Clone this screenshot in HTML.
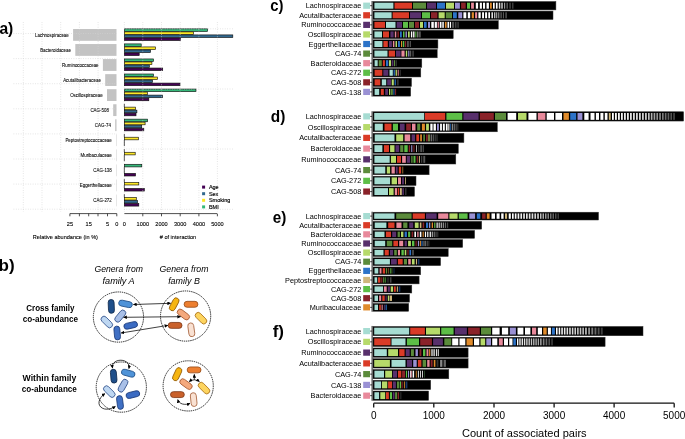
<!DOCTYPE html>
<html><head><meta charset="utf-8"><style>
html,body{margin:0;padding:0;background:#fff;}
svg{display:block;will-change:transform;font-family:"Liberation Sans",sans-serif;}
</style></head><body>
<svg width="685" height="439" viewBox="0 0 685 439">
<rect width="685" height="439" fill="#fff"/>
<line x1="124.35" y1="22" x2="124.35" y2="212" stroke="#d3d3d3" stroke-width="0.7" stroke-dasharray="0.8 1.6"/>
<rect x="73.1" y="29" width="43.4" height="11.8" fill="#c3c3c3"/>
<rect x="124.35" y="28.85" width="83.25" height="2.6" fill="#35b779" stroke="#111" stroke-width="0.65"/>
<rect x="124.35" y="31.88" width="69.15" height="2.6" fill="#fde725" stroke="#111" stroke-width="0.65"/>
<rect x="124.35" y="34.91" width="108.45" height="2.6" fill="#31688e" stroke="#111" stroke-width="0.65"/>
<rect x="124.35" y="37.94" width="56.25" height="2.6" fill="#440154" stroke="#111" stroke-width="0.65"/>
<rect x="75.3" y="44.05" width="41.2" height="11.8" fill="#c3c3c3"/>
<rect x="124.35" y="43.9" width="16.85" height="2.6" fill="#35b779" stroke="#111" stroke-width="0.65"/>
<rect x="124.35" y="46.93" width="31.25" height="2.6" fill="#fde725" stroke="#111" stroke-width="0.65"/>
<rect x="124.35" y="49.96" width="26.15" height="2.6" fill="#31688e" stroke="#111" stroke-width="0.65"/>
<rect x="124.35" y="52.99" width="14.85" height="2.6" fill="#440154" stroke="#111" stroke-width="0.65"/>
<rect x="102.9" y="59.1" width="13.6" height="11.8" fill="#c3c3c3"/>
<rect x="124.35" y="58.95" width="29.15" height="2.6" fill="#35b779" stroke="#111" stroke-width="0.65"/>
<rect x="124.35" y="61.98" width="27.55" height="2.6" fill="#fde725" stroke="#111" stroke-width="0.65"/>
<rect x="124.35" y="65.01" width="25.05" height="2.6" fill="#31688e" stroke="#111" stroke-width="0.65"/>
<rect x="124.35" y="68.04" width="38.35" height="2.6" fill="#440154" stroke="#111" stroke-width="0.65"/>
<rect x="105.2" y="74.15" width="11.3" height="11.8" fill="#c3c3c3"/>
<rect x="124.35" y="74" width="29.15" height="2.6" fill="#35b779" stroke="#111" stroke-width="0.65"/>
<rect x="124.35" y="77.03" width="33.25" height="2.6" fill="#fde725" stroke="#111" stroke-width="0.65"/>
<rect x="124.35" y="80.06" width="28.15" height="2.6" fill="#31688e" stroke="#111" stroke-width="0.65"/>
<rect x="124.35" y="83.09" width="55.65" height="2.6" fill="#440154" stroke="#111" stroke-width="0.65"/>
<rect x="107" y="89.2" width="9.5" height="11.8" fill="#c3c3c3"/>
<rect x="124.35" y="89.05" width="71.65" height="2.6" fill="#35b779" stroke="#111" stroke-width="0.65"/>
<rect x="124.35" y="92.08" width="23.05" height="2.6" fill="#fde725" stroke="#111" stroke-width="0.65"/>
<rect x="124.35" y="95.11" width="38.15" height="2.6" fill="#31688e" stroke="#111" stroke-width="0.65"/>
<rect x="124.35" y="98.14" width="24.45" height="2.6" fill="#440154" stroke="#111" stroke-width="0.65"/>
<rect x="113.2" y="104.25" width="3.3" height="11.8" fill="#c3c3c3"/>
<line x1="124.35" y1="103.85" x2="124.35" y2="106.88" stroke="#111" stroke-width="0.7"/>
<rect x="124.35" y="107.13" width="11.25" height="2.6" fill="#fde725" stroke="#111" stroke-width="0.65"/>
<rect x="124.35" y="110.16" width="12.55" height="2.6" fill="#31688e" stroke="#111" stroke-width="0.65"/>
<rect x="124.35" y="113.19" width="11.65" height="2.6" fill="#440154" stroke="#111" stroke-width="0.65"/>
<rect x="115.2" y="119.3" width="1.3" height="11.8" fill="#c3c3c3"/>
<rect x="124.35" y="119.15" width="23.25" height="2.6" fill="#35b779" stroke="#111" stroke-width="0.65"/>
<rect x="124.35" y="122.18" width="20.75" height="2.6" fill="#fde725" stroke="#111" stroke-width="0.65"/>
<rect x="124.35" y="125.21" width="17.35" height="2.6" fill="#31688e" stroke="#111" stroke-width="0.65"/>
<rect x="124.35" y="128.24" width="19.45" height="2.6" fill="#440154" stroke="#111" stroke-width="0.65"/>
<rect x="116.1" y="134.35" width="0.4" height="11.8" fill="#c3c3c3"/>
<line x1="124.35" y1="133.95" x2="124.35" y2="136.98" stroke="#111" stroke-width="0.7"/>
<rect x="124.35" y="137.23" width="14.05" height="2.6" fill="#fde725" stroke="#111" stroke-width="0.65"/>
<line x1="124.35" y1="140.01" x2="124.35" y2="143.04" stroke="#111" stroke-width="0.7"/>
<line x1="124.35" y1="143.04" x2="124.35" y2="146.07" stroke="#111" stroke-width="0.7"/>
<rect x="116.1" y="149.4" width="0.4" height="11.8" fill="#c3c3c3"/>
<line x1="124.35" y1="149" x2="124.35" y2="152.03" stroke="#111" stroke-width="0.7"/>
<rect x="124.35" y="152.28" width="10.85" height="2.6" fill="#fde725" stroke="#111" stroke-width="0.65"/>
<line x1="124.35" y1="155.06" x2="124.35" y2="158.09" stroke="#111" stroke-width="0.7"/>
<line x1="124.35" y1="158.09" x2="124.35" y2="161.12" stroke="#111" stroke-width="0.7"/>
<rect x="116.1" y="164.45" width="0.4" height="11.8" fill="#c3c3c3"/>
<rect x="124.35" y="164.3" width="17.45" height="2.6" fill="#35b779" stroke="#111" stroke-width="0.65"/>
<line x1="124.35" y1="167.08" x2="124.35" y2="170.11" stroke="#111" stroke-width="0.7"/>
<line x1="124.35" y1="170.11" x2="124.35" y2="173.14" stroke="#111" stroke-width="0.7"/>
<rect x="124.35" y="173.39" width="11.15" height="2.6" fill="#440154" stroke="#111" stroke-width="0.65"/>
<rect x="116.1" y="179.5" width="0.4" height="11.8" fill="#c3c3c3"/>
<line x1="124.35" y1="179.1" x2="124.35" y2="182.13" stroke="#111" stroke-width="0.7"/>
<rect x="124.35" y="182.38" width="14.45" height="2.6" fill="#fde725" stroke="#111" stroke-width="0.65"/>
<line x1="124.35" y1="185.16" x2="124.35" y2="188.19" stroke="#111" stroke-width="0.7"/>
<rect x="124.35" y="188.44" width="19.95" height="2.6" fill="#440154" stroke="#111" stroke-width="0.65"/>
<rect x="116.1" y="194.55" width="0.4" height="11.8" fill="#c3c3c3"/>
<line x1="124.35" y1="194.15" x2="124.35" y2="197.18" stroke="#111" stroke-width="0.7"/>
<rect x="124.35" y="197.43" width="11.95" height="2.6" fill="#fde725" stroke="#111" stroke-width="0.65"/>
<rect x="124.35" y="200.46" width="13.15" height="2.6" fill="#31688e" stroke="#111" stroke-width="0.65"/>
<rect x="124.35" y="203.49" width="14.45" height="2.6" fill="#440154" stroke="#111" stroke-width="0.65"/>
<line x1="23.3" y1="22" x2="23.3" y2="212" stroke="#d3d3d3" stroke-width="0.7" stroke-dasharray="0.8 1.6"/>
<line x1="42" y1="22" x2="42" y2="212" stroke="#d3d3d3" stroke-width="0.7" stroke-dasharray="0.8 1.6"/>
<line x1="60.7" y1="22" x2="60.7" y2="212" stroke="#d3d3d3" stroke-width="0.7" stroke-dasharray="0.8 1.6"/>
<line x1="79.4" y1="22" x2="79.4" y2="212" stroke="#d3d3d3" stroke-width="0.7" stroke-dasharray="0.8 1.6"/>
<line x1="98.1" y1="22" x2="98.1" y2="212" stroke="#d3d3d3" stroke-width="0.7" stroke-dasharray="0.8 1.6"/>
<line x1="13.5" y1="33.5" x2="117" y2="33.5" stroke="#d3d3d3" stroke-width="0.7" stroke-dasharray="0.8 1.6"/>
<line x1="13.5" y1="58.6" x2="117" y2="58.6" stroke="#d3d3d3" stroke-width="0.7" stroke-dasharray="0.8 1.6"/>
<line x1="13.5" y1="83.7" x2="117" y2="83.7" stroke="#d3d3d3" stroke-width="0.7" stroke-dasharray="0.8 1.6"/>
<line x1="13.5" y1="108.8" x2="117" y2="108.8" stroke="#d3d3d3" stroke-width="0.7" stroke-dasharray="0.8 1.6"/>
<line x1="13.5" y1="133.9" x2="117" y2="133.9" stroke="#d3d3d3" stroke-width="0.7" stroke-dasharray="0.8 1.6"/>
<line x1="13.5" y1="159" x2="117" y2="159" stroke="#d3d3d3" stroke-width="0.7" stroke-dasharray="0.8 1.6"/>
<line x1="13.5" y1="184.1" x2="117" y2="184.1" stroke="#d3d3d3" stroke-width="0.7" stroke-dasharray="0.8 1.6"/>
<line x1="13.5" y1="209.2" x2="117" y2="209.2" stroke="#d3d3d3" stroke-width="0.7" stroke-dasharray="0.8 1.6"/>
<line x1="142.8" y1="22" x2="142.8" y2="212" stroke="#d3d3d3" stroke-width="0.7" stroke-dasharray="0.8 1.6"/>
<line x1="161.5" y1="22" x2="161.5" y2="212" stroke="#d3d3d3" stroke-width="0.7" stroke-dasharray="0.8 1.6"/>
<line x1="180.2" y1="22" x2="180.2" y2="212" stroke="#d3d3d3" stroke-width="0.7" stroke-dasharray="0.8 1.6"/>
<line x1="198.9" y1="22" x2="198.9" y2="212" stroke="#d3d3d3" stroke-width="0.7" stroke-dasharray="0.8 1.6"/>
<line x1="217.4" y1="22" x2="217.4" y2="212" stroke="#d3d3d3" stroke-width="0.7" stroke-dasharray="0.8 1.6"/>
<line x1="124" y1="28.8" x2="233" y2="28.8" stroke="#d3d3d3" stroke-width="0.7" stroke-dasharray="0.8 1.6"/>
<line x1="124" y1="89" x2="233" y2="89" stroke="#d3d3d3" stroke-width="0.7" stroke-dasharray="0.8 1.6"/>
<line x1="124" y1="149" x2="233" y2="149" stroke="#d3d3d3" stroke-width="0.7" stroke-dasharray="0.8 1.6"/>
<line x1="124" y1="209.3" x2="233" y2="209.3" stroke="#d3d3d3" stroke-width="0.7" stroke-dasharray="0.8 1.6"/>
<text x="68.8" y="36.5" font-size="4.45" text-anchor="end" fill="#000" stroke="#000" stroke-width="0.07">Lachnospiraceae</text>
<text x="71" y="51.55" font-size="4.45" text-anchor="end" fill="#000" stroke="#000" stroke-width="0.07">Bacteroidaceae</text>
<text x="98.6" y="66.6" font-size="4.45" text-anchor="end" fill="#000" stroke="#000" stroke-width="0.07">Ruminococcaceae</text>
<text x="100.9" y="81.65" font-size="4.45" text-anchor="end" fill="#000" stroke="#000" stroke-width="0.07">Acutalibacteraceae</text>
<text x="102.7" y="96.7" font-size="4.45" text-anchor="end" fill="#000" stroke="#000" stroke-width="0.07">Oscillospiraceae</text>
<text x="108.9" y="111.75" font-size="4.45" text-anchor="end" fill="#000" stroke="#000" stroke-width="0.07">CAG-508</text>
<text x="110.9" y="126.8" font-size="4.45" text-anchor="end" fill="#000" stroke="#000" stroke-width="0.07">CAG-74</text>
<text x="111.8" y="141.85" font-size="4.45" text-anchor="end" fill="#000" stroke="#000" stroke-width="0.07">Peptostreptococcaceae</text>
<text x="111.8" y="156.9" font-size="4.45" text-anchor="end" fill="#000" stroke="#000" stroke-width="0.07">Muribaculaceae</text>
<text x="111.8" y="171.95" font-size="4.45" text-anchor="end" fill="#000" stroke="#000" stroke-width="0.07">CAG-138</text>
<text x="111.8" y="187" font-size="4.45" text-anchor="end" fill="#000" stroke="#000" stroke-width="0.07">Eggerthellaceae</text>
<text x="111.8" y="202.05" font-size="4.45" text-anchor="end" fill="#000" stroke="#000" stroke-width="0.07">CAG-272</text>
<g stroke="#222" stroke-width="0.8" fill="none">
<path d="M69.9,213.6 H116.8"/>
<path d="M69.9,213.6 V216.3"/>
<path d="M79.4,213.6 V216.3"/>
<path d="M88.7,213.6 V216.3"/>
<path d="M98,213.6 V216.3"/>
<path d="M107.5,213.6 V216.3"/>
<path d="M116.8,213.6 V216.3"/>
<path d="M124.35,213.6 H217"/>
<path d="M142.8,213.6 V216.3"/>
<path d="M161.5,213.6 V216.3"/>
<path d="M180.2,213.6 V216.3"/>
<path d="M198.9,213.6 V216.3"/>
<path d="M217.4,213.6 V216.3"/>
</g>
<text x="69.9" y="225.6" font-size="5.6" text-anchor="middle" fill="#000" stroke="#000" stroke-width="0.1">25</text>
<text x="88.7" y="225.6" font-size="5.6" text-anchor="middle" fill="#000" stroke="#000" stroke-width="0.1">15</text>
<text x="107.5" y="225.6" font-size="5.6" text-anchor="middle" fill="#000" stroke="#000" stroke-width="0.1">5</text>
<text x="116.8" y="225.6" font-size="5.6" text-anchor="middle" fill="#000" stroke="#000" stroke-width="0.1">0</text>
<text x="124.35" y="225.6" font-size="5.6" text-anchor="middle" fill="#000" stroke="#000" stroke-width="0.1">0</text>
<text x="142.8" y="225.6" font-size="5.6" text-anchor="middle" fill="#000" stroke="#000" stroke-width="0.1">1000</text>
<text x="161.5" y="225.6" font-size="5.6" text-anchor="middle" fill="#000" stroke="#000" stroke-width="0.1">2000</text>
<text x="180.2" y="225.6" font-size="5.6" text-anchor="middle" fill="#000" stroke="#000" stroke-width="0.1">3000</text>
<text x="198.9" y="225.6" font-size="5.6" text-anchor="middle" fill="#000" stroke="#000" stroke-width="0.1">4000</text>
<text x="217.4" y="225.6" font-size="5.6" text-anchor="middle" fill="#000" stroke="#000" stroke-width="0.1">5000</text>
<text x="65.4" y="239" font-size="5.55" text-anchor="middle" fill="#000" stroke="#000" stroke-width="0.1">Relative abundance (in %)</text>
<text x="178" y="239" font-size="5.55" text-anchor="middle" fill="#000" stroke="#000" stroke-width="0.1">#  of interaction</text>
<rect x="202.1" y="185.6" width="3" height="3" fill="#440154"/>
<text x="208.9" y="189.1" font-size="5.5" fill="#000" stroke="#000" stroke-width="0.15">Age</text>
<rect x="202.1" y="192.2" width="3" height="3" fill="#31688e"/>
<text x="208.9" y="195.7" font-size="5.5" fill="#000" stroke="#000" stroke-width="0.15">Sex</text>
<rect x="202.1" y="198.8" width="3" height="3" fill="#fde725"/>
<text x="208.9" y="202.3" font-size="5.5" fill="#000" stroke="#000" stroke-width="0.15">Smoking</text>
<rect x="202.1" y="205.4" width="3" height="3" fill="#35b779"/>
<text x="208.9" y="208.9" font-size="5.5" fill="#000" stroke="#000" stroke-width="0.15">BMI</text>
<text transform="translate(270.2,11.3) scale(0.877,1)" font-size="17" font-weight="bold" fill="#000">c)</text>
<line x1="372.1" y1="1" x2="372.1" y2="96.62" stroke="#222" stroke-width="1"/>
<text x="361.3" y="8.3" font-size="7.3" text-anchor="end" fill="#000">Lachnospiraceae</text>
<rect x="363.2" y="2.6" width="6.8" height="6.2" fill="#a6dcd2"/>
<line x1="370.2" y1="5.7" x2="372.1" y2="5.7" stroke="#222" stroke-width="0.9"/>
<rect x="373" y="1.5" width="182.9" height="8.4" fill="#000" stroke="#333" stroke-width="0.5"/>
<rect x="374.4" y="2.7" width="19" height="6" fill="#a6dcd2"/>
<rect x="394.5" y="2.7" width="17.5" height="6" fill="#da3b27"/>
<rect x="413" y="2.7" width="13" height="6" fill="#5b8b3b"/>
<rect x="427" y="2.7" width="9" height="6" fill="#58306c"/>
<rect x="437" y="2.7" width="8" height="6" fill="#2c73c8"/>
<rect x="446" y="2.7" width="8" height="6" fill="#b6da6a"/>
<rect x="455" y="2.7" width="4.9" height="6" fill="#9a91d4"/>
<rect x="461.1" y="2.7" width="4.6" height="6" fill="#8a2229"/>
<rect x="467" y="2.7" width="3" height="6" fill="#5dbe47"/>
<rect x="471.1" y="2.7" width="2.8" height="6" fill="#e8899b"/>
<rect x="475.8" y="2.7" width="2.3" height="6" fill="#ffffff"/>
<rect x="479.8" y="2.7" width="2.1" height="6" fill="#ffffff"/>
<rect x="483" y="2.7" width="2.1" height="6" fill="#ffffff"/>
<rect x="486.5" y="2.7" width="2.4" height="6" fill="#ffffff"/>
<rect x="490" y="2.7" width="1.8" height="6" fill="#e08b2b"/>
<rect x="493" y="2.7" width="1.7" height="6" fill="#ffffff"/>
<rect x="495.9" y="2.7" width="1.7" height="6" fill="#ffffff"/>
<rect x="498.8" y="2.7" width="1.5" height="6" fill="#dddddd"/>
<rect x="501.1" y="2.7" width="1.8" height="6" fill="#aaaaaa"/>
<rect x="504" y="2.7" width="1.2" height="6" fill="#999999"/>
<rect x="506.4" y="2.7" width="1.6" height="6" fill="#555555"/>
<rect x="509.3" y="2.7" width="1.5" height="6" fill="#444444"/>
<rect x="512" y="2.7" width="1.5" height="6" fill="#3a3a3a"/>
<text x="361.3" y="17.88" font-size="7.3" text-anchor="end" fill="#000">Acutalibacteraceae</text>
<rect x="363.2" y="12.18" width="6.8" height="6.2" fill="#da3b27"/>
<line x1="370.2" y1="15.28" x2="372.1" y2="15.28" stroke="#222" stroke-width="0.9"/>
<rect x="373" y="11.08" width="180" height="8.4" fill="#000" stroke="#333" stroke-width="0.5"/>
<rect x="374.4" y="12.28" width="17.2" height="6" fill="#a6dcd2"/>
<rect x="392.6" y="12.28" width="16.4" height="6" fill="#da3b27"/>
<rect x="410" y="12.28" width="11" height="6" fill="#58306c"/>
<rect x="422" y="12.28" width="8" height="6" fill="#5dbe47"/>
<rect x="431" y="12.28" width="6.4" height="6" fill="#8a2229"/>
<rect x="438.6" y="12.28" width="6.1" height="6" fill="#b6da6a"/>
<rect x="445.8" y="12.28" width="6.2" height="6" fill="#5b8b3b"/>
<rect x="453" y="12.28" width="3.8" height="6" fill="#2c73c8"/>
<rect x="458.3" y="12.28" width="3.9" height="6" fill="#9a91d4"/>
<rect x="463.4" y="12.28" width="2.9" height="6" fill="#ffffff"/>
<rect x="467.8" y="12.28" width="2.4" height="6" fill="#ffffff"/>
<rect x="471.7" y="12.28" width="2.2" height="6" fill="#e08b2b"/>
<rect x="475.1" y="12.28" width="2.1" height="6" fill="#e8899b"/>
<rect x="478.4" y="12.28" width="2.3" height="6" fill="#ffffff"/>
<rect x="482.1" y="12.28" width="1.9" height="6" fill="#ffffff"/>
<rect x="485.1" y="12.28" width="2" height="6" fill="#ffffff"/>
<rect x="488.3" y="12.28" width="1.7" height="6" fill="#ffffff"/>
<rect x="491.4" y="12.28" width="1.6" height="6" fill="#dddddd"/>
<rect x="494.1" y="12.28" width="1.2" height="6" fill="#cccccc"/>
<rect x="495.9" y="12.28" width="0.9" height="6" fill="#bbbbbb"/>
<rect x="497.6" y="12.28" width="1.8" height="6" fill="#777777"/>
<rect x="500.5" y="12.28" width="1.2" height="6" fill="#666666"/>
<rect x="502.9" y="12.28" width="1.1" height="6" fill="#555555"/>
<rect x="505.2" y="12.28" width="1.8" height="6" fill="#444444"/>
<text x="361.3" y="27.46" font-size="7.3" text-anchor="end" fill="#000">Ruminococcaceae</text>
<rect x="363.2" y="21.76" width="6.8" height="6.2" fill="#58306c"/>
<line x1="370.2" y1="24.86" x2="372.1" y2="24.86" stroke="#222" stroke-width="0.9"/>
<rect x="373" y="20.66" width="125.3" height="8.4" fill="#000" stroke="#333" stroke-width="0.5"/>
<rect x="374.4" y="21.86" width="10.6" height="6" fill="#da3b27"/>
<rect x="386" y="21.86" width="9.5" height="6" fill="#a6dcd2"/>
<rect x="396.7" y="21.86" width="5.3" height="6" fill="#58306c"/>
<rect x="403" y="21.86" width="5" height="6" fill="#5dbe47"/>
<rect x="409" y="21.86" width="5" height="6" fill="#5b8b3b"/>
<rect x="415" y="21.86" width="4" height="6" fill="#8a2229"/>
<rect x="420" y="21.86" width="3" height="6" fill="#b6da6a"/>
<rect x="424" y="21.86" width="2.6" height="6" fill="#2c73c8"/>
<rect x="428" y="21.86" width="2" height="6" fill="#9a91d4"/>
<rect x="431.3" y="21.86" width="2.5" height="6" fill="#ffffff"/>
<rect x="434.7" y="21.86" width="2.2" height="6" fill="#ffffff"/>
<rect x="437.6" y="21.86" width="1.3" height="6" fill="#e8899b"/>
<rect x="439.8" y="21.86" width="1.7" height="6" fill="#ffffff"/>
<rect x="442.3" y="21.86" width="1.5" height="6" fill="#ffffff"/>
<rect x="444.9" y="21.86" width="1.7" height="6" fill="#e08b2b"/>
<rect x="447.5" y="21.86" width="1.5" height="6" fill="#ffffff"/>
<rect x="449.8" y="21.86" width="1.2" height="6" fill="#ffffff"/>
<rect x="451.8" y="21.86" width="2.2" height="6" fill="#555555"/>
<rect x="454.8" y="21.86" width="1.7" height="6" fill="#444444"/>
<rect x="457.2" y="21.86" width="1.8" height="6" fill="#333333"/>
<text x="361.3" y="37.04" font-size="7.3" text-anchor="end" fill="#000">Oscillospiraceae</text>
<rect x="363.2" y="31.34" width="6.8" height="6.2" fill="#b6da6a"/>
<line x1="370.2" y1="34.44" x2="372.1" y2="34.44" stroke="#222" stroke-width="0.9"/>
<rect x="373" y="30.24" width="80.2" height="8.4" fill="#000" stroke="#333" stroke-width="0.5"/>
<rect x="374.4" y="31.44" width="7.6" height="6" fill="#a6dcd2"/>
<rect x="383" y="31.44" width="6" height="6" fill="#da3b27"/>
<rect x="390.4" y="31.44" width="3.2" height="6" fill="#58306c"/>
<rect x="394.8" y="31.44" width="1.5" height="6" fill="#e8899b"/>
<rect x="397.4" y="31.44" width="1.5" height="6" fill="#8a2229"/>
<rect x="400" y="31.44" width="1.8" height="6" fill="#2c73c8"/>
<rect x="403" y="31.44" width="1.5" height="6" fill="#5dbe47"/>
<rect x="405.5" y="31.44" width="1.4" height="6" fill="#9a91d4"/>
<rect x="408" y="31.44" width="1.7" height="6" fill="#b6da6a"/>
<rect x="410.9" y="31.44" width="1.4" height="6" fill="#ffffff"/>
<rect x="413.1" y="31.44" width="1.4" height="6" fill="#ffffff"/>
<rect x="415.3" y="31.44" width="1.1" height="6" fill="#5dbe47"/>
<rect x="417" y="31.44" width="1.5" height="6" fill="#777777"/>
<rect x="419" y="31.44" width="1.8" height="6" fill="#555555"/>
<text x="361.3" y="46.62" font-size="7.3" text-anchor="end" fill="#000">Eggerthellaceae</text>
<rect x="363.2" y="40.92" width="6.8" height="6.2" fill="#2c73c8"/>
<line x1="370.2" y1="44.02" x2="372.1" y2="44.02" stroke="#222" stroke-width="0.9"/>
<rect x="373" y="39.82" width="64.9" height="8.4" fill="#000" stroke="#333" stroke-width="0.5"/>
<rect x="374.4" y="41.02" width="8" height="6" fill="#a6dcd2"/>
<rect x="383.4" y="41.02" width="4.4" height="6" fill="#da3b27"/>
<rect x="389" y="41.02" width="2.9" height="6" fill="#58306c"/>
<rect x="392.9" y="41.02" width="1.5" height="6" fill="#e8899b"/>
<rect x="395.5" y="41.02" width="1.5" height="6" fill="#b6da6a"/>
<rect x="398" y="41.02" width="1.9" height="6" fill="#2c73c8"/>
<rect x="401" y="41.02" width="1.1" height="6" fill="#e08b2b"/>
<rect x="402.8" y="41.02" width="1.5" height="6" fill="#5dbe47"/>
<rect x="405" y="41.02" width="1.2" height="6" fill="#8a2229"/>
<rect x="407.2" y="41.02" width="1.5" height="6" fill="#666666"/>
<rect x="409.7" y="41.02" width="1.2" height="6" fill="#555555"/>
<text x="361.3" y="56.2" font-size="7.3" text-anchor="end" fill="#000">CAG-74</text>
<rect x="363.2" y="50.5" width="6.8" height="6.2" fill="#5b8b3b"/>
<line x1="370.2" y1="53.6" x2="372.1" y2="53.6" stroke="#222" stroke-width="0.9"/>
<rect x="373" y="49.4" width="64.2" height="8.4" fill="#000" stroke="#333" stroke-width="0.5"/>
<rect x="374.4" y="50.6" width="13.1" height="6" fill="#a6dcd2"/>
<rect x="388.7" y="50.6" width="6.3" height="6" fill="#da3b27"/>
<rect x="396" y="50.6" width="4.6" height="6" fill="#58306c"/>
<rect x="401.4" y="50.6" width="3.2" height="6" fill="#e8899b"/>
<rect x="405.8" y="50.6" width="1.4" height="6" fill="#b6da6a"/>
<rect x="408.2" y="50.6" width="1.2" height="6" fill="#9a91d4"/>
<rect x="410.1" y="50.6" width="1.1" height="6" fill="#666666"/>
<rect x="412.3" y="50.6" width="1.5" height="6" fill="#444444"/>
<text x="361.3" y="65.78" font-size="7.3" text-anchor="end" fill="#000">Bacteroidaceae</text>
<rect x="363.2" y="60.08" width="6.8" height="6.2" fill="#e8899b"/>
<line x1="370.2" y1="63.18" x2="372.1" y2="63.18" stroke="#222" stroke-width="0.9"/>
<rect x="373" y="58.98" width="48.8" height="8.4" fill="#000" stroke="#333" stroke-width="0.5"/>
<rect x="374.6" y="60.18" width="3.1" height="6" fill="#a6dcd2"/>
<rect x="378.7" y="60.18" width="3.1" height="6" fill="#5b8b3b"/>
<rect x="382.8" y="60.18" width="2.1" height="6" fill="#da3b27"/>
<rect x="385.9" y="60.18" width="2.4" height="6" fill="#2c73c8"/>
<rect x="389" y="60.18" width="2" height="6" fill="#b6da6a"/>
<rect x="391.7" y="60.18" width="1.7" height="6" fill="#58306c"/>
<rect x="394" y="60.18" width="1.1" height="6" fill="#5b8b3b"/>
<rect x="395.6" y="60.18" width="1.3" height="6" fill="#333333"/>
<text x="361.3" y="75.36" font-size="7.3" text-anchor="end" fill="#000">CAG-272</text>
<rect x="363.2" y="69.66" width="6.8" height="6.2" fill="#5dbe47"/>
<line x1="370.2" y1="72.76" x2="372.1" y2="72.76" stroke="#222" stroke-width="0.9"/>
<rect x="373" y="68.56" width="47.8" height="8.4" fill="#000" stroke="#333" stroke-width="0.5"/>
<rect x="374.6" y="69.76" width="7.7" height="6" fill="#da3b27"/>
<rect x="383.3" y="69.76" width="5" height="6" fill="#58306c"/>
<rect x="389.5" y="69.76" width="3.3" height="6" fill="#a6dcd2"/>
<rect x="393.6" y="69.76" width="1.2" height="6" fill="#2c73c8"/>
<rect x="395.6" y="69.76" width="1.3" height="6" fill="#b6da6a"/>
<rect x="397.7" y="69.76" width="1" height="6" fill="#e8899b"/>
<rect x="399.7" y="69.76" width="1.1" height="6" fill="#333333"/>
<text x="361.3" y="84.94" font-size="7.3" text-anchor="end" fill="#000">CAG-508</text>
<rect x="363.2" y="79.24" width="6.8" height="6.2" fill="#8a2229"/>
<line x1="370.2" y1="82.34" x2="372.1" y2="82.34" stroke="#222" stroke-width="0.9"/>
<rect x="373" y="78.14" width="38.5" height="8.4" fill="#000" stroke="#333" stroke-width="0.5"/>
<rect x="374.6" y="79.34" width="5.7" height="6" fill="#da3b27"/>
<rect x="381.8" y="79.34" width="4.4" height="6" fill="#a6dcd2"/>
<rect x="387.2" y="79.34" width="3.8" height="6" fill="#58306c"/>
<rect x="391.7" y="79.34" width="2.1" height="6" fill="#b6da6a"/>
<rect x="394.6" y="79.34" width="1.2" height="6" fill="#2c73c8"/>
<rect x="396.9" y="79.34" width="1.8" height="6" fill="#333333"/>
<text x="361.3" y="94.52" font-size="7.3" text-anchor="end" fill="#000">CAG-138</text>
<rect x="363.2" y="88.82" width="6.8" height="6.2" fill="#9a91d4"/>
<line x1="370.2" y1="91.92" x2="372.1" y2="91.92" stroke="#222" stroke-width="0.9"/>
<rect x="373" y="87.72" width="37.7" height="8.4" fill="#000" stroke="#333" stroke-width="0.5"/>
<rect x="374.6" y="88.92" width="4.6" height="6" fill="#a6dcd2"/>
<rect x="380.8" y="88.92" width="3" height="6" fill="#da3b27"/>
<rect x="385.2" y="88.92" width="2.8" height="6" fill="#58306c"/>
<rect x="389" y="88.92" width="1" height="6" fill="#b6da6a"/>
<rect x="390.5" y="88.92" width="2.3" height="6" fill="#5b8b3b"/>
<rect x="393.4" y="88.92" width="1" height="6" fill="#2c73c8"/>
<rect x="395.1" y="88.92" width="1" height="6" fill="#8a2229"/>
<text transform="translate(270.8,121.5) scale(0.907,1)" font-size="17" font-weight="bold" fill="#000">d)</text>
<line x1="372.1" y1="111.25" x2="372.1" y2="196.73" stroke="#222" stroke-width="1"/>
<text x="361.3" y="119" font-size="7.3" text-anchor="end" fill="#000">Lachnospiraceae</text>
<rect x="363.2" y="113.3" width="6.8" height="6.2" fill="#a6dcd2"/>
<line x1="370.2" y1="116.4" x2="372.1" y2="116.4" stroke="#222" stroke-width="0.9"/>
<rect x="373" y="111.75" width="310.6" height="9.3" fill="#000" stroke="#333" stroke-width="0.5"/>
<rect x="374.2" y="112.95" width="50" height="6.9" fill="#a6dcd2"/>
<rect x="424.9" y="112.95" width="20.3" height="6.9" fill="#da3b27"/>
<rect x="446.4" y="112.95" width="15.9" height="6.9" fill="#5dbe47"/>
<rect x="463.4" y="112.95" width="15.2" height="6.9" fill="#58306c"/>
<rect x="479.8" y="112.95" width="14" height="6.9" fill="#8a2229"/>
<rect x="495" y="112.95" width="11" height="6.9" fill="#5b8b3b"/>
<rect x="507.6" y="112.95" width="8.6" height="6.9" fill="#ffffff"/>
<rect x="518" y="112.95" width="8.5" height="6.9" fill="#b6da6a"/>
<rect x="528.4" y="112.95" width="8.1" height="6.9" fill="#ffffff"/>
<rect x="537.8" y="112.95" width="7.6" height="6.9" fill="#e8899b"/>
<rect x="546.7" y="112.95" width="7.3" height="6.9" fill="#ffffff"/>
<rect x="555.4" y="112.95" width="6.6" height="6.9" fill="#ffffff"/>
<rect x="563.5" y="112.95" width="5.4" height="6.9" fill="#e08b2b"/>
<rect x="570.2" y="112.95" width="6" height="6.9" fill="#2c73c8"/>
<rect x="577.5" y="112.95" width="4.9" height="6.9" fill="#9a91d4"/>
<rect x="584.3" y="112.95" width="4.3" height="6.9" fill="#ffffff"/>
<rect x="590.5" y="112.95" width="4" height="6.9" fill="#ffffff"/>
<rect x="595.9" y="112.95" width="3.1" height="6.9" fill="#ffffff"/>
<rect x="600.4" y="112.95" width="3" height="6.9" fill="#ffffff"/>
<rect x="604.8" y="112.95" width="2.7" height="6.9" fill="#ffffff"/>
<rect x="608.8" y="112.95" width="1.9" height="6.9" fill="#cfb77c"/>
<rect x="612" y="112.95" width="1.8" height="6.9" fill="#ffffff"/>
<rect x="615" y="112.95" width="1.8" height="6.9" fill="#fafafa"/>
<rect x="618" y="112.95" width="1.8" height="6.9" fill="#f5f5f5"/>
<rect x="621" y="112.95" width="1.8" height="6.9" fill="#f0f0f0"/>
<rect x="624" y="112.95" width="1.8" height="6.9" fill="#ebebeb"/>
<rect x="627" y="112.95" width="1.8" height="6.9" fill="#e6e6e6"/>
<rect x="630" y="112.95" width="1.8" height="6.9" fill="#e1e1e1"/>
<rect x="633" y="112.95" width="1.8" height="6.9" fill="#dcdcdc"/>
<rect x="636" y="112.95" width="1.8" height="6.9" fill="#d7d7d7"/>
<rect x="639" y="112.95" width="1.8" height="6.9" fill="#d2d2d2"/>
<rect x="642" y="112.95" width="1.8" height="6.9" fill="#cdcdcd"/>
<rect x="645" y="112.95" width="1.8" height="6.9" fill="#c8c8c8"/>
<rect x="648" y="112.95" width="1.68" height="6.9" fill="#bebebe"/>
<rect x="650.8" y="112.95" width="1.68" height="6.9" fill="#b0b0b0"/>
<rect x="653.6" y="112.95" width="1.68" height="6.9" fill="#a3a3a3"/>
<rect x="656.4" y="112.95" width="1.68" height="6.9" fill="#969696"/>
<rect x="659.2" y="112.95" width="1.68" height="6.9" fill="#888888"/>
<rect x="662" y="112.95" width="1.68" height="6.9" fill="#7b7b7b"/>
<rect x="664.8" y="112.95" width="1.68" height="6.9" fill="#6e6e6e"/>
<rect x="667.6" y="112.95" width="1.68" height="6.9" fill="#606060"/>
<rect x="670.4" y="112.95" width="1.68" height="6.9" fill="#535353"/>
<rect x="673.2" y="112.95" width="1.68" height="6.9" fill="#464646"/>
<text x="361.3" y="129.74" font-size="7.3" text-anchor="end" fill="#000">Oscillospiraceae</text>
<rect x="363.2" y="124.04" width="6.8" height="6.2" fill="#b6da6a"/>
<line x1="370.2" y1="127.14" x2="372.1" y2="127.14" stroke="#222" stroke-width="0.9"/>
<rect x="373" y="122.49" width="124.3" height="9.3" fill="#000" stroke="#333" stroke-width="0.5"/>
<rect x="374.7" y="123.69" width="8.1" height="6.9" fill="#a6dcd2"/>
<rect x="384.5" y="123.69" width="7" height="6.9" fill="#da3b27"/>
<rect x="392.9" y="123.69" width="5.1" height="6.9" fill="#5dbe47"/>
<rect x="399.9" y="123.69" width="4.7" height="6.9" fill="#58306c"/>
<rect x="406.2" y="123.69" width="4.7" height="6.9" fill="#8a2229"/>
<rect x="412" y="123.69" width="3.5" height="6.9" fill="#e8899b"/>
<rect x="417.2" y="123.69" width="3" height="6.9" fill="#5b8b3b"/>
<rect x="421.9" y="123.69" width="3" height="6.9" fill="#e08b2b"/>
<rect x="426.1" y="123.69" width="2.8" height="6.9" fill="#b6da6a"/>
<rect x="430.3" y="123.69" width="2.3" height="6.9" fill="#ffffff"/>
<rect x="433.5" y="123.69" width="2.4" height="6.9" fill="#ffffff"/>
<rect x="437" y="123.69" width="1.9" height="6.9" fill="#9a91d4"/>
<rect x="440.1" y="123.69" width="1.8" height="6.9" fill="#ffffff"/>
<rect x="442.9" y="123.69" width="1.9" height="6.9" fill="#ffffff"/>
<rect x="445.9" y="123.69" width="1.7" height="6.9" fill="#ffffff"/>
<rect x="448.3" y="123.69" width="1.1" height="6.9" fill="#ffffff"/>
<rect x="450.1" y="123.69" width="0.7" height="6.9" fill="#2c73c8"/>
<rect x="451.8" y="123.69" width="1" height="6.9" fill="#aaaaaa"/>
<rect x="453.7" y="123.69" width="1" height="6.9" fill="#888888"/>
<rect x="455.6" y="123.69" width="1" height="6.9" fill="#666666"/>
<rect x="457.4" y="123.69" width="0.9" height="6.9" fill="#444444"/>
<text x="361.3" y="140.48" font-size="7.3" text-anchor="end" fill="#000">Acutalibacteraceae</text>
<rect x="363.2" y="134.78" width="6.8" height="6.2" fill="#da3b27"/>
<line x1="370.2" y1="137.88" x2="372.1" y2="137.88" stroke="#222" stroke-width="0.9"/>
<rect x="373" y="133.23" width="90.9" height="9.3" fill="#000" stroke="#333" stroke-width="0.5"/>
<rect x="374.7" y="134.43" width="19.8" height="6.9" fill="#a6dcd2"/>
<rect x="396.2" y="134.43" width="7" height="6.9" fill="#b6da6a"/>
<rect x="404.6" y="134.43" width="5.6" height="6.9" fill="#e8899b"/>
<rect x="411.6" y="134.43" width="3.5" height="6.9" fill="#58306c"/>
<rect x="416.3" y="134.43" width="2.8" height="6.9" fill="#da3b27"/>
<rect x="420.2" y="134.43" width="1.7" height="6.9" fill="#e08b2b"/>
<rect x="423.3" y="134.43" width="1.6" height="6.9" fill="#5b8b3b"/>
<rect x="426.1" y="134.43" width="1.6" height="6.9" fill="#8a2229"/>
<rect x="428.4" y="134.43" width="1.2" height="6.9" fill="#b6da6a"/>
<rect x="430.7" y="134.43" width="1.1" height="6.9" fill="#888888"/>
<rect x="432.7" y="134.43" width="1.1" height="6.9" fill="#666666"/>
<rect x="434.7" y="134.43" width="0.9" height="6.9" fill="#555555"/>
<rect x="436.5" y="134.43" width="1" height="6.9" fill="#444444"/>
<text x="361.3" y="151.22" font-size="7.3" text-anchor="end" fill="#000">Bacteroidaceae</text>
<rect x="363.2" y="145.52" width="6.8" height="6.2" fill="#e8899b"/>
<line x1="370.2" y1="148.62" x2="372.1" y2="148.62" stroke="#222" stroke-width="0.9"/>
<rect x="373" y="143.97" width="85.3" height="9.3" fill="#000" stroke="#333" stroke-width="0.5"/>
<rect x="374.4" y="145.17" width="8" height="6.9" fill="#a6dcd2"/>
<rect x="383.9" y="145.17" width="5.1" height="6.9" fill="#da3b27"/>
<rect x="390.1" y="145.17" width="4.4" height="6.9" fill="#b6da6a"/>
<rect x="395.5" y="145.17" width="3.7" height="6.9" fill="#58306c"/>
<rect x="400.2" y="145.17" width="3.1" height="6.9" fill="#5b8b3b"/>
<rect x="404.3" y="145.17" width="3.4" height="6.9" fill="#5dbe47"/>
<rect x="408.7" y="145.17" width="1.4" height="6.9" fill="#8a2229"/>
<rect x="411.2" y="145.17" width="1.1" height="6.9" fill="#9a91d4"/>
<rect x="413.4" y="145.17" width="1.1" height="6.9" fill="#8a2229"/>
<rect x="416" y="145.17" width="1" height="6.9" fill="#aaaaaa"/>
<rect x="418.2" y="145.17" width="1.1" height="6.9" fill="#333333"/>
<rect x="420.4" y="145.17" width="1.4" height="6.9" fill="#666666"/>
<rect x="422.6" y="145.17" width="1.4" height="6.9" fill="#444444"/>
<text x="361.3" y="161.96" font-size="7.3" text-anchor="end" fill="#000">Ruminococcaceae</text>
<rect x="363.2" y="156.26" width="6.8" height="6.2" fill="#58306c"/>
<line x1="370.2" y1="159.36" x2="372.1" y2="159.36" stroke="#222" stroke-width="0.9"/>
<rect x="373" y="154.71" width="82.8" height="9.3" fill="#000" stroke="#333" stroke-width="0.5"/>
<rect x="374.4" y="155.91" width="15.3" height="6.9" fill="#a6dcd2"/>
<rect x="390.9" y="155.91" width="5.1" height="6.9" fill="#b6da6a"/>
<rect x="397" y="155.91" width="4" height="6.9" fill="#da3b27"/>
<rect x="402.1" y="155.91" width="3.7" height="6.9" fill="#e8899b"/>
<rect x="406.8" y="155.91" width="3.3" height="6.9" fill="#58306c"/>
<rect x="411.2" y="155.91" width="1.4" height="6.9" fill="#5b8b3b"/>
<rect x="413.5" y="155.91" width="2" height="6.9" fill="#5dbe47"/>
<rect x="416.7" y="155.91" width="1.2" height="6.9" fill="#8a2229"/>
<rect x="418.9" y="155.91" width="1" height="6.9" fill="#cfb77c"/>
<rect x="421.1" y="155.91" width="1.2" height="6.9" fill="#444444"/>
<rect x="423.3" y="155.91" width="1.9" height="6.9" fill="#555555"/>
<text x="361.3" y="172.7" font-size="7.3" text-anchor="end" fill="#000">CAG-74</text>
<rect x="363.2" y="167" width="6.8" height="6.2" fill="#5b8b3b"/>
<line x1="370.2" y1="170.1" x2="372.1" y2="170.1" stroke="#222" stroke-width="0.9"/>
<rect x="373" y="165.45" width="56.1" height="9.3" fill="#000" stroke="#333" stroke-width="0.5"/>
<rect x="374.4" y="166.65" width="10.9" height="6.9" fill="#a6dcd2"/>
<rect x="386.8" y="166.65" width="3.3" height="6.9" fill="#b6da6a"/>
<rect x="391.5" y="166.65" width="3.3" height="6.9" fill="#e8899b"/>
<rect x="395.8" y="166.65" width="1.9" height="6.9" fill="#58306c"/>
<rect x="398.8" y="166.65" width="2.3" height="6.9" fill="#da3b27"/>
<rect x="402.1" y="166.65" width="1.2" height="6.9" fill="#7a5a2a"/>
<text x="361.3" y="183.44" font-size="7.3" text-anchor="end" fill="#000">CAG-272</text>
<rect x="363.2" y="177.74" width="6.8" height="6.2" fill="#5dbe47"/>
<line x1="370.2" y1="180.84" x2="372.1" y2="180.84" stroke="#222" stroke-width="0.9"/>
<rect x="373" y="176.19" width="43" height="9.3" fill="#000" stroke="#333" stroke-width="0.5"/>
<rect x="374.4" y="177.39" width="15.7" height="6.9" fill="#a6dcd2"/>
<rect x="391.6" y="177.39" width="5.4" height="6.9" fill="#b6da6a"/>
<rect x="398" y="177.39" width="3" height="6.9" fill="#e8899b"/>
<rect x="402.1" y="177.39" width="1.8" height="6.9" fill="#58306c"/>
<rect x="405" y="177.39" width="0.8" height="6.9" fill="#cfb77c"/>
<text x="361.3" y="194.18" font-size="7.3" text-anchor="end" fill="#000">CAG-508</text>
<rect x="363.2" y="188.48" width="6.8" height="6.2" fill="#8a2229"/>
<line x1="370.2" y1="191.58" x2="372.1" y2="191.58" stroke="#222" stroke-width="0.9"/>
<rect x="373" y="186.93" width="41.5" height="9.3" fill="#000" stroke="#333" stroke-width="0.5"/>
<rect x="374.4" y="188.13" width="13.6" height="6.9" fill="#a6dcd2"/>
<rect x="389" y="188.13" width="4.6" height="6.9" fill="#b6da6a"/>
<rect x="394.8" y="188.13" width="2.2" height="6.9" fill="#e8899b"/>
<rect x="397.7" y="188.13" width="1.5" height="6.9" fill="#da3b27"/>
<rect x="399.9" y="188.13" width="1.9" height="6.9" fill="#cfb77c"/>
<rect x="402.4" y="188.13" width="1.5" height="6.9" fill="#58306c"/>
<rect x="405" y="188.13" width="1.5" height="6.9" fill="#333333"/>
<text transform="translate(272.8,222.5) scale(0.9,1)" font-size="17" font-weight="bold" fill="#000">e)</text>
<line x1="372.1" y1="211.7" x2="372.1" y2="311.75" stroke="#222" stroke-width="1"/>
<text x="361.3" y="218.7" font-size="7.3" text-anchor="end" fill="#000">Lachnospiraceae</text>
<rect x="363.2" y="213" width="6.8" height="6.2" fill="#a6dcd2"/>
<line x1="370.2" y1="216.1" x2="372.1" y2="216.1" stroke="#222" stroke-width="0.9"/>
<rect x="373" y="212.2" width="225.5" height="7.8" fill="#000" stroke="#333" stroke-width="0.5"/>
<rect x="374.2" y="213.4" width="20.3" height="5.4" fill="#a6dcd2"/>
<rect x="396.2" y="213.4" width="15.4" height="5.4" fill="#5b8b3b"/>
<rect x="412.7" y="213.4" width="12.2" height="5.4" fill="#da3b27"/>
<rect x="426" y="213.4" width="10.6" height="5.4" fill="#58306c"/>
<rect x="438.2" y="213.4" width="10.1" height="5.4" fill="#e8899b"/>
<rect x="449.4" y="213.4" width="8.2" height="5.4" fill="#b6da6a"/>
<rect x="458.8" y="213.4" width="8.8" height="5.4" fill="#5dbe47"/>
<rect x="469.3" y="213.4" width="5.8" height="5.4" fill="#9a91d4"/>
<rect x="476.8" y="213.4" width="3.5" height="5.4" fill="#2c73c8"/>
<rect x="482.1" y="213.4" width="3.5" height="5.4" fill="#8a2229"/>
<rect x="486.8" y="213.4" width="2.8" height="5.4" fill="#e08b2b"/>
<rect x="491.5" y="213.4" width="3.5" height="5.4" fill="#ffffff"/>
<rect x="496.6" y="213.4" width="3" height="5.4" fill="#ffffff"/>
<rect x="501.2" y="213.4" width="2.4" height="5.4" fill="#ffffff"/>
<rect x="505" y="213.4" width="2.1" height="5.4" fill="#cfb77c"/>
<rect x="508.7" y="213.4" width="2.1" height="5.4" fill="#ffffff"/>
<rect x="512" y="213.4" width="1.68" height="5.4" fill="#ffffff"/>
<rect x="514.8" y="213.4" width="1.68" height="5.4" fill="#fafafa"/>
<rect x="517.6" y="213.4" width="1.68" height="5.4" fill="#f5f5f5"/>
<rect x="520.4" y="213.4" width="1.68" height="5.4" fill="#f0f0f0"/>
<rect x="523.2" y="213.4" width="1.68" height="5.4" fill="#ebebeb"/>
<rect x="526" y="213.4" width="1.68" height="5.4" fill="#e6e6e6"/>
<rect x="528.8" y="213.4" width="1.68" height="5.4" fill="#e1e1e1"/>
<rect x="531.6" y="213.4" width="1.68" height="5.4" fill="#dcdcdc"/>
<rect x="534.4" y="213.4" width="1.68" height="5.4" fill="#d7d7d7"/>
<rect x="537.2" y="213.4" width="1.68" height="5.4" fill="#d2d2d2"/>
<rect x="540" y="213.4" width="1.5" height="5.4" fill="#bebebe"/>
<rect x="542.5" y="213.4" width="1.5" height="5.4" fill="#ababab"/>
<rect x="545" y="213.4" width="1.5" height="5.4" fill="#989898"/>
<rect x="547.5" y="213.4" width="1.5" height="5.4" fill="#868686"/>
<rect x="550" y="213.4" width="1.5" height="5.4" fill="#737373"/>
<rect x="552.5" y="213.4" width="1.5" height="5.4" fill="#616161"/>
<rect x="555" y="213.4" width="1.5" height="5.4" fill="#4e4e4e"/>
<rect x="557.5" y="213.4" width="1.5" height="5.4" fill="#3c3c3c"/>
<text x="361.3" y="227.82" font-size="7.3" text-anchor="end" fill="#000">Acutalibacteraceae</text>
<rect x="363.2" y="222.12" width="6.8" height="6.2" fill="#da3b27"/>
<line x1="370.2" y1="225.22" x2="372.1" y2="225.22" stroke="#222" stroke-width="0.9"/>
<rect x="373" y="221.32" width="108.7" height="7.8" fill="#000" stroke="#333" stroke-width="0.5"/>
<rect x="374.7" y="222.52" width="11.7" height="5.4" fill="#a6dcd2"/>
<rect x="388.2" y="222.52" width="6.3" height="5.4" fill="#da3b27"/>
<rect x="396.4" y="222.52" width="5.1" height="5.4" fill="#e8899b"/>
<rect x="403.2" y="222.52" width="4.2" height="5.4" fill="#5b8b3b"/>
<rect x="409.2" y="222.52" width="4" height="5.4" fill="#58306c"/>
<rect x="414.8" y="222.52" width="3.8" height="5.4" fill="#b6da6a"/>
<rect x="419.8" y="222.52" width="1.6" height="5.4" fill="#cfb77c"/>
<rect x="422.6" y="222.52" width="1.6" height="5.4" fill="#8a2229"/>
<rect x="426" y="222.52" width="2" height="5.4" fill="#2c73c8"/>
<rect x="428.9" y="222.52" width="1.4" height="5.4" fill="#9a91d4"/>
<rect x="431.7" y="222.52" width="1.3" height="5.4" fill="#e08b2b"/>
<rect x="434.2" y="222.52" width="1.2" height="5.4" fill="#5dbe47"/>
<rect x="436.5" y="222.52" width="1.25" height="5.4" fill="#ebebeb"/>
<rect x="438.58" y="222.52" width="1.25" height="5.4" fill="#cacaca"/>
<rect x="440.67" y="222.52" width="1.25" height="5.4" fill="#a9a9a9"/>
<rect x="442.75" y="222.52" width="1.25" height="5.4" fill="#888888"/>
<rect x="444.83" y="222.52" width="1.25" height="5.4" fill="#676767"/>
<rect x="446.92" y="222.52" width="1.25" height="5.4" fill="#464646"/>
<text x="361.3" y="236.95" font-size="7.3" text-anchor="end" fill="#000">Bacteroidaceae</text>
<rect x="363.2" y="231.25" width="6.8" height="6.2" fill="#e8899b"/>
<line x1="370.2" y1="234.35" x2="372.1" y2="234.35" stroke="#222" stroke-width="0.9"/>
<rect x="373" y="230.45" width="101.6" height="7.8" fill="#000" stroke="#333" stroke-width="0.5"/>
<rect x="374.7" y="231.65" width="9.8" height="5.4" fill="#a6dcd2"/>
<rect x="385.9" y="231.65" width="5.1" height="5.4" fill="#da3b27"/>
<rect x="392.2" y="231.65" width="4" height="5.4" fill="#58306c"/>
<rect x="397.6" y="231.65" width="2.3" height="5.4" fill="#5b8b3b"/>
<rect x="401" y="231.65" width="2.4" height="5.4" fill="#b6da6a"/>
<rect x="404.6" y="231.65" width="2.3" height="5.4" fill="#2c73c8"/>
<rect x="408.1" y="231.65" width="2.1" height="5.4" fill="#5dbe47"/>
<rect x="411.6" y="231.65" width="1.6" height="5.4" fill="#8a2229"/>
<rect x="414.4" y="231.65" width="1.6" height="5.4" fill="#ffffff"/>
<rect x="417.2" y="231.65" width="1.4" height="5.4" fill="#e8899b"/>
<rect x="419.8" y="231.65" width="1.6" height="5.4" fill="#ffffff"/>
<rect x="422.6" y="231.65" width="1.1" height="5.4" fill="#e08b2b"/>
<rect x="424.9" y="231.65" width="1.2" height="5.4" fill="#ffffff"/>
<rect x="427.2" y="231.65" width="1.2" height="5.4" fill="#ffffff"/>
<rect x="429.6" y="231.65" width="1.6" height="5.4" fill="#dddddd"/>
<rect x="432" y="231.65" width="1.05" height="5.4" fill="#969696"/>
<rect x="433.75" y="231.65" width="1.05" height="5.4" fill="#787878"/>
<rect x="435.5" y="231.65" width="1.05" height="5.4" fill="#5a5a5a"/>
<rect x="437.25" y="231.65" width="1.05" height="5.4" fill="#3c3c3c"/>
<text x="361.3" y="246.07" font-size="7.3" text-anchor="end" fill="#000">Ruminococcaceae</text>
<rect x="363.2" y="240.38" width="6.8" height="6.2" fill="#58306c"/>
<line x1="370.2" y1="243.47" x2="372.1" y2="243.47" stroke="#222" stroke-width="0.9"/>
<rect x="373" y="239.57" width="89.7" height="7.8" fill="#000" stroke="#333" stroke-width="0.5"/>
<rect x="374.7" y="240.77" width="10.5" height="5.4" fill="#a6dcd2"/>
<rect x="386.8" y="240.77" width="5.4" height="5.4" fill="#5b8b3b"/>
<rect x="393.4" y="240.77" width="4.6" height="5.4" fill="#da3b27"/>
<rect x="399.2" y="240.77" width="4" height="5.4" fill="#e8899b"/>
<rect x="404.6" y="240.77" width="2.3" height="5.4" fill="#58306c"/>
<rect x="408.1" y="240.77" width="2.8" height="5.4" fill="#b6da6a"/>
<rect x="412" y="240.77" width="2.4" height="5.4" fill="#5dbe47"/>
<rect x="415.5" y="240.77" width="1.2" height="5.4" fill="#8a2229"/>
<rect x="417.9" y="240.77" width="1.1" height="5.4" fill="#9a91d4"/>
<rect x="419.8" y="240.77" width="1.1" height="5.4" fill="#e08b2b"/>
<rect x="421.5" y="240.77" width="1.1" height="5.4" fill="#2c73c8"/>
<rect x="423.5" y="240.77" width="0.98" height="5.4" fill="#8c8c8c"/>
<rect x="425.12" y="240.77" width="0.98" height="5.4" fill="#717171"/>
<rect x="426.75" y="240.77" width="0.98" height="5.4" fill="#565656"/>
<rect x="428.38" y="240.77" width="0.98" height="5.4" fill="#3c3c3c"/>
<text x="361.3" y="255.2" font-size="7.3" text-anchor="end" fill="#000">Oscillospiraceae</text>
<rect x="363.2" y="249.5" width="6.8" height="6.2" fill="#b6da6a"/>
<line x1="370.2" y1="252.6" x2="372.1" y2="252.6" stroke="#222" stroke-width="0.9"/>
<rect x="373" y="248.7" width="75.2" height="7.8" fill="#000" stroke="#333" stroke-width="0.5"/>
<rect x="374.5" y="249.9" width="9" height="5.4" fill="#a6dcd2"/>
<rect x="384.7" y="249.9" width="4.1" height="5.4" fill="#da3b27"/>
<rect x="389.9" y="249.9" width="3.2" height="5.4" fill="#58306c"/>
<rect x="394.2" y="249.9" width="2.6" height="5.4" fill="#5b8b3b"/>
<rect x="397.9" y="249.9" width="2.1" height="5.4" fill="#e8899b"/>
<rect x="401.4" y="249.9" width="2.4" height="5.4" fill="#5dbe47"/>
<rect x="404.7" y="249.9" width="1.6" height="5.4" fill="#b6da6a"/>
<rect x="407.4" y="249.9" width="1.2" height="5.4" fill="#8a2229"/>
<rect x="409.5" y="249.9" width="1.6" height="5.4" fill="#2c73c8"/>
<rect x="412.2" y="249.9" width="1.6" height="5.4" fill="#555555"/>
<text x="361.3" y="264.33" font-size="7.3" text-anchor="end" fill="#000">CAG-74</text>
<rect x="363.2" y="258.62" width="6.8" height="6.2" fill="#5b8b3b"/>
<line x1="370.2" y1="261.73" x2="372.1" y2="261.73" stroke="#222" stroke-width="0.9"/>
<rect x="373" y="257.83" width="67.6" height="7.8" fill="#000" stroke="#333" stroke-width="0.5"/>
<rect x="374.5" y="259.03" width="15.4" height="5.4" fill="#a6dcd2"/>
<rect x="391" y="259.03" width="5.8" height="5.4" fill="#58306c"/>
<rect x="397.9" y="259.03" width="4.8" height="5.4" fill="#da3b27"/>
<rect x="403.9" y="259.03" width="3.1" height="5.4" fill="#5b8b3b"/>
<rect x="408.2" y="259.03" width="2.6" height="5.4" fill="#e8899b"/>
<rect x="411.9" y="259.03" width="2.7" height="5.4" fill="#b6da6a"/>
<rect x="415.9" y="259.03" width="1.1" height="5.4" fill="#cfb77c"/>
<rect x="417.8" y="259.03" width="1.6" height="5.4" fill="#1c3a6a"/>
<text x="361.3" y="273.45" font-size="7.3" text-anchor="end" fill="#000">Eggerthellaceae</text>
<rect x="363.2" y="267.75" width="6.8" height="6.2" fill="#2c73c8"/>
<line x1="370.2" y1="270.85" x2="372.1" y2="270.85" stroke="#222" stroke-width="0.9"/>
<rect x="373" y="266.95" width="47.7" height="7.8" fill="#000" stroke="#333" stroke-width="0.5"/>
<rect x="374.5" y="268.15" width="3.8" height="5.4" fill="#a6dcd2"/>
<rect x="379.6" y="268.15" width="1.9" height="5.4" fill="#e8899b"/>
<rect x="382.7" y="268.15" width="2.4" height="5.4" fill="#da3b27"/>
<rect x="385.9" y="268.15" width="1.1" height="5.4" fill="#5b8b3b"/>
<rect x="387.8" y="268.15" width="1" height="5.4" fill="#7a5a2a"/>
<rect x="389.9" y="268.15" width="0.8" height="5.4" fill="#5dbe47"/>
<rect x="391.5" y="268.15" width="0.8" height="5.4" fill="#5b8b3b"/>
<rect x="393.6" y="268.15" width="0.8" height="5.4" fill="#1c3a6a"/>
<text x="361.3" y="282.58" font-size="7.3" text-anchor="end" fill="#000">Peptostreptococcaceae</text>
<rect x="363.2" y="276.88" width="6.8" height="6.2" fill="#cfb77c"/>
<line x1="370.2" y1="279.98" x2="372.1" y2="279.98" stroke="#222" stroke-width="0.9"/>
<rect x="373" y="276.08" width="46.1" height="7.8" fill="#000" stroke="#333" stroke-width="0.5"/>
<rect x="374.5" y="277.28" width="2.7" height="5.4" fill="#a6dcd2"/>
<rect x="378" y="277.28" width="2.4" height="5.4" fill="#da3b27"/>
<rect x="381.2" y="277.28" width="1.2" height="5.4" fill="#8a2229"/>
<rect x="383.1" y="277.28" width="0.9" height="5.4" fill="#5b8b3b"/>
<rect x="384.7" y="277.28" width="0.9" height="5.4" fill="#5dbe47"/>
<rect x="386.7" y="277.28" width="2.4" height="5.4" fill="#222222"/>
<rect x="389.9" y="277.28" width="1.6" height="5.4" fill="#444444"/>
<text x="361.3" y="291.7" font-size="7.3" text-anchor="end" fill="#000">CAG-272</text>
<rect x="363.2" y="286" width="6.8" height="6.2" fill="#5dbe47"/>
<line x1="370.2" y1="289.1" x2="372.1" y2="289.1" stroke="#222" stroke-width="0.9"/>
<rect x="373" y="285.2" width="38.8" height="7.8" fill="#000" stroke="#333" stroke-width="0.5"/>
<rect x="374.5" y="286.4" width="8.6" height="5.4" fill="#a6dcd2"/>
<rect x="384" y="286.4" width="2.7" height="5.4" fill="#e8899b"/>
<rect x="387.8" y="286.4" width="2.1" height="5.4" fill="#58306c"/>
<rect x="390.7" y="286.4" width="2.4" height="5.4" fill="#b6da6a"/>
<rect x="393.9" y="286.4" width="1.9" height="5.4" fill="#da3b27"/>
<rect x="396.8" y="286.4" width="1.1" height="5.4" fill="#cfb77c"/>
<rect x="398.7" y="286.4" width="1.6" height="5.4" fill="#1c3a6a"/>
<text x="361.3" y="300.83" font-size="7.3" text-anchor="end" fill="#000">CAG-508</text>
<rect x="363.2" y="295.12" width="6.8" height="6.2" fill="#8a2229"/>
<line x1="370.2" y1="298.23" x2="372.1" y2="298.23" stroke="#222" stroke-width="0.9"/>
<rect x="373" y="294.33" width="36.5" height="7.8" fill="#000" stroke="#333" stroke-width="0.5"/>
<rect x="374.5" y="295.53" width="3.5" height="5.4" fill="#a6dcd2"/>
<rect x="379.1" y="295.53" width="2.1" height="5.4" fill="#e8899b"/>
<rect x="382.3" y="295.53" width="2.4" height="5.4" fill="#da3b27"/>
<rect x="385.6" y="295.53" width="1.1" height="5.4" fill="#58306c"/>
<rect x="387.8" y="295.53" width="1.3" height="5.4" fill="#b6da6a"/>
<rect x="389.6" y="295.53" width="2.4" height="5.4" fill="#cfb77c"/>
<text x="361.3" y="309.95" font-size="7.3" text-anchor="end" fill="#000">Muribaculaceae</text>
<rect x="363.2" y="304.25" width="6.8" height="6.2" fill="#e08b2b"/>
<line x1="370.2" y1="307.35" x2="372.1" y2="307.35" stroke="#222" stroke-width="0.9"/>
<rect x="373" y="303.45" width="35.7" height="7.8" fill="#000" stroke="#333" stroke-width="0.5"/>
<rect x="374.5" y="304.65" width="3.5" height="5.4" fill="#a6dcd2"/>
<rect x="379.2" y="304.65" width="1.6" height="5.4" fill="#da3b27"/>
<rect x="381.6" y="304.65" width="1.1" height="5.4" fill="#e8899b"/>
<rect x="383.9" y="304.65" width="0.9" height="5.4" fill="#58306c"/>
<rect x="385.6" y="304.65" width="1.1" height="5.4" fill="#2c73c8"/>
<text transform="translate(272.7,336.5) scale(1.0,1)" font-size="17" font-weight="bold" fill="#000">f)</text>
<line x1="372.1" y1="325.95" x2="372.1" y2="400.81" stroke="#222" stroke-width="1"/>
<text x="361.3" y="333.7" font-size="7.3" text-anchor="end" fill="#000">Lachnospiraceae</text>
<rect x="363.2" y="328" width="6.8" height="6.2" fill="#a6dcd2"/>
<line x1="370.2" y1="331.1" x2="372.1" y2="331.1" stroke="#222" stroke-width="0.9"/>
<rect x="373" y="326.45" width="270" height="9.3" fill="#000" stroke="#333" stroke-width="0.5"/>
<rect x="374.2" y="327.65" width="35" height="6.9" fill="#a6dcd2"/>
<rect x="410.2" y="327.65" width="14.7" height="6.9" fill="#da3b27"/>
<rect x="426" y="327.65" width="14.1" height="6.9" fill="#b6da6a"/>
<rect x="441.2" y="327.65" width="12.4" height="6.9" fill="#5dbe47"/>
<rect x="454.8" y="327.65" width="12.1" height="6.9" fill="#58306c"/>
<rect x="468.1" y="327.65" width="11.7" height="6.9" fill="#8a2229"/>
<rect x="481" y="327.65" width="10" height="6.9" fill="#5b8b3b"/>
<rect x="492.2" y="327.65" width="7.4" height="6.9" fill="#ffffff"/>
<rect x="501.9" y="327.65" width="6.3" height="6.9" fill="#ffffff"/>
<rect x="509.8" y="327.65" width="6.1" height="6.9" fill="#9a91d4"/>
<rect x="517.5" y="327.65" width="5.9" height="6.9" fill="#ffffff"/>
<rect x="525" y="327.65" width="5.4" height="6.9" fill="#ffffff"/>
<rect x="532" y="327.65" width="4.2" height="6.9" fill="#e8899b"/>
<rect x="537.8" y="327.65" width="4.2" height="6.9" fill="#ffffff"/>
<rect x="543.2" y="327.65" width="3.5" height="6.9" fill="#e08b2b"/>
<rect x="547.9" y="327.65" width="3" height="6.9" fill="#ffffff"/>
<rect x="551.9" y="327.65" width="3" height="6.9" fill="#2c73c8"/>
<rect x="556" y="327.65" width="1.58" height="6.9" fill="#ffffff"/>
<rect x="558.64" y="327.65" width="1.58" height="6.9" fill="#f8f8f8"/>
<rect x="561.27" y="327.65" width="1.58" height="6.9" fill="#f2f2f2"/>
<rect x="563.91" y="327.65" width="1.58" height="6.9" fill="#ebebeb"/>
<rect x="566.55" y="327.65" width="1.58" height="6.9" fill="#e5e5e5"/>
<rect x="569.18" y="327.65" width="1.58" height="6.9" fill="#dedede"/>
<rect x="571.82" y="327.65" width="1.58" height="6.9" fill="#d8d8d8"/>
<rect x="574.45" y="327.65" width="1.58" height="6.9" fill="#d1d1d1"/>
<rect x="577.09" y="327.65" width="1.58" height="6.9" fill="#cbcbcb"/>
<rect x="579.73" y="327.65" width="1.58" height="6.9" fill="#c4c4c4"/>
<rect x="582.36" y="327.65" width="1.58" height="6.9" fill="#bebebe"/>
<rect x="585" y="327.65" width="1.9" height="6.9" fill="#aaaaaa"/>
<rect x="588.17" y="327.65" width="1.9" height="6.9" fill="#949494"/>
<rect x="591.33" y="327.65" width="1.9" height="6.9" fill="#7e7e7e"/>
<rect x="594.5" y="327.65" width="1.9" height="6.9" fill="#686868"/>
<rect x="597.67" y="327.65" width="1.9" height="6.9" fill="#525252"/>
<rect x="600.83" y="327.65" width="1.9" height="6.9" fill="#3c3c3c"/>
<text x="361.3" y="344.46" font-size="7.3" text-anchor="end" fill="#000">Oscillospiraceae</text>
<rect x="363.2" y="338.76" width="6.8" height="6.2" fill="#b6da6a"/>
<line x1="370.2" y1="341.86" x2="372.1" y2="341.86" stroke="#222" stroke-width="0.9"/>
<rect x="373" y="337.21" width="232.1" height="9.3" fill="#000" stroke="#333" stroke-width="0.5"/>
<rect x="374.2" y="338.41" width="16.4" height="6.9" fill="#da3b27"/>
<rect x="391.5" y="338.41" width="14" height="6.9" fill="#a6dcd2"/>
<rect x="406.9" y="338.41" width="12.1" height="6.9" fill="#5dbe47"/>
<rect x="420.2" y="338.41" width="11.7" height="6.9" fill="#8a2229"/>
<rect x="433.1" y="338.41" width="9.8" height="6.9" fill="#58306c"/>
<rect x="444.3" y="338.41" width="7" height="6.9" fill="#5b8b3b"/>
<rect x="452.2" y="338.41" width="6.1" height="6.9" fill="#ffffff"/>
<rect x="459.5" y="338.41" width="5.8" height="6.9" fill="#ffffff"/>
<rect x="466.5" y="338.41" width="6.3" height="6.9" fill="#e08b2b"/>
<rect x="474" y="338.41" width="5.3" height="6.9" fill="#ffffff"/>
<rect x="480.5" y="338.41" width="4.7" height="6.9" fill="#b6da6a"/>
<rect x="486.3" y="338.41" width="4.7" height="6.9" fill="#9a91d4"/>
<rect x="492.2" y="338.41" width="5.1" height="6.9" fill="#ffffff"/>
<rect x="498.9" y="338.41" width="3.9" height="6.9" fill="#e8899b"/>
<rect x="504" y="338.41" width="4" height="6.9" fill="#ffffff"/>
<rect x="509.2" y="338.41" width="3.3" height="6.9" fill="#ffffff"/>
<rect x="513.3" y="338.41" width="2.6" height="6.9" fill="#2c73c8"/>
<rect x="517" y="338.41" width="1.38" height="6.9" fill="#ffffff"/>
<rect x="519.3" y="338.41" width="1.38" height="6.9" fill="#f5f5f5"/>
<rect x="521.6" y="338.41" width="1.38" height="6.9" fill="#ececec"/>
<rect x="523.9" y="338.41" width="1.38" height="6.9" fill="#e2e2e2"/>
<rect x="526.2" y="338.41" width="1.38" height="6.9" fill="#d9d9d9"/>
<rect x="528.5" y="338.41" width="1.38" height="6.9" fill="#cfcfcf"/>
<rect x="530.8" y="338.41" width="1.38" height="6.9" fill="#c6c6c6"/>
<rect x="533.1" y="338.41" width="1.38" height="6.9" fill="#bcbcbc"/>
<rect x="535.4" y="338.41" width="1.38" height="6.9" fill="#b3b3b3"/>
<rect x="537.7" y="338.41" width="1.38" height="6.9" fill="#aaaaaa"/>
<rect x="540" y="338.41" width="1.68" height="6.9" fill="#969696"/>
<rect x="542.8" y="338.41" width="1.68" height="6.9" fill="#7f7f7f"/>
<rect x="545.6" y="338.41" width="1.68" height="6.9" fill="#696969"/>
<rect x="548.4" y="338.41" width="1.68" height="6.9" fill="#525252"/>
<rect x="551.2" y="338.41" width="1.68" height="6.9" fill="#3c3c3c"/>
<text x="361.3" y="355.22" font-size="7.3" text-anchor="end" fill="#000">Ruminococcaceae</text>
<rect x="363.2" y="349.52" width="6.8" height="6.2" fill="#58306c"/>
<line x1="370.2" y1="352.62" x2="372.1" y2="352.62" stroke="#222" stroke-width="0.9"/>
<rect x="373" y="347.97" width="95.1" height="9.3" fill="#000" stroke="#333" stroke-width="0.5"/>
<rect x="374.2" y="349.17" width="12.6" height="6.9" fill="#a6dcd2"/>
<rect x="388.2" y="349.17" width="9.8" height="6.9" fill="#b6da6a"/>
<rect x="399.2" y="349.17" width="5.4" height="6.9" fill="#da3b27"/>
<rect x="405.7" y="349.17" width="4" height="6.9" fill="#58306c"/>
<rect x="410.9" y="349.17" width="3" height="6.9" fill="#5b8b3b"/>
<rect x="415.5" y="349.17" width="2.4" height="6.9" fill="#9a91d4"/>
<rect x="419.5" y="349.17" width="1.9" height="6.9" fill="#8a2229"/>
<rect x="423" y="349.17" width="2.4" height="6.9" fill="#5dbe47"/>
<rect x="426.5" y="349.17" width="1.9" height="6.9" fill="#e8899b"/>
<rect x="429.1" y="349.17" width="1.2" height="6.9" fill="#e08b2b"/>
<rect x="431.4" y="349.17" width="1.2" height="6.9" fill="#ffffff"/>
<rect x="433.5" y="349.17" width="1.2" height="6.9" fill="#ffffff"/>
<rect x="435.9" y="349.17" width="1.1" height="6.9" fill="#dddddd"/>
<rect x="437.7" y="349.17" width="1.2" height="6.9" fill="#cccccc"/>
<text x="361.3" y="365.98" font-size="7.3" text-anchor="end" fill="#000">Acutalibacteraceae</text>
<rect x="363.2" y="360.28" width="6.8" height="6.2" fill="#da3b27"/>
<line x1="370.2" y1="363.38" x2="372.1" y2="363.38" stroke="#222" stroke-width="0.9"/>
<rect x="373" y="358.73" width="95.1" height="9.3" fill="#000" stroke="#333" stroke-width="0.5"/>
<rect x="374.2" y="359.93" width="15.7" height="6.9" fill="#b6da6a"/>
<rect x="391.5" y="359.93" width="14" height="6.9" fill="#a6dcd2"/>
<rect x="406.9" y="359.93" width="5.1" height="6.9" fill="#58306c"/>
<rect x="413.2" y="359.93" width="3.5" height="6.9" fill="#9a91d4"/>
<rect x="417.9" y="359.93" width="3.5" height="6.9" fill="#da3b27"/>
<rect x="422.6" y="359.93" width="3.5" height="6.9" fill="#5b8b3b"/>
<rect x="427.2" y="359.93" width="2.4" height="6.9" fill="#e8899b"/>
<rect x="430.7" y="359.93" width="1.9" height="6.9" fill="#8a2229"/>
<rect x="433.8" y="359.93" width="1.6" height="6.9" fill="#e08b2b"/>
<rect x="436.6" y="359.93" width="1.8" height="6.9" fill="#333333"/>
<rect x="440.1" y="359.93" width="2.3" height="6.9" fill="#888888"/>
<rect x="443.6" y="359.93" width="2.3" height="6.9" fill="#666666"/>
<text x="361.3" y="376.74" font-size="7.3" text-anchor="end" fill="#000">CAG-74</text>
<rect x="363.2" y="371.04" width="6.8" height="6.2" fill="#5b8b3b"/>
<line x1="370.2" y1="374.14" x2="372.1" y2="374.14" stroke="#222" stroke-width="0.9"/>
<rect x="373" y="369.49" width="75.8" height="9.3" fill="#000" stroke="#333" stroke-width="0.5"/>
<rect x="374.4" y="370.69" width="9.6" height="6.9" fill="#a6dcd2"/>
<rect x="385.2" y="370.69" width="6.8" height="6.9" fill="#b6da6a"/>
<rect x="392.8" y="370.69" width="4.3" height="6.9" fill="#58306c"/>
<rect x="398" y="370.69" width="3.3" height="6.9" fill="#da3b27"/>
<rect x="402.1" y="370.69" width="2.9" height="6.9" fill="#8a2229"/>
<rect x="405.9" y="370.69" width="1.2" height="6.9" fill="#5dbe47"/>
<rect x="408" y="370.69" width="1.1" height="6.9" fill="#9a91d4"/>
<rect x="410" y="370.69" width="1" height="6.9" fill="#dddddd"/>
<rect x="410.9" y="370.69" width="0.9" height="6.9" fill="#e8899b"/>
<rect x="412.6" y="370.69" width="1.5" height="6.9" fill="#ffffff"/>
<rect x="415.8" y="370.69" width="0.9" height="6.9" fill="#e08b2b"/>
<rect x="417.9" y="370.69" width="0.9" height="6.9" fill="#ffffff"/>
<rect x="420" y="370.69" width="0.8" height="6.9" fill="#ffffff"/>
<rect x="422" y="370.69" width="0.8" height="6.9" fill="#ffffff"/>
<rect x="424" y="370.69" width="0.9" height="6.9" fill="#2a4a2a"/>
<text x="361.3" y="387.5" font-size="7.3" text-anchor="end" fill="#000">CAG-138</text>
<rect x="363.2" y="381.8" width="6.8" height="6.2" fill="#9a91d4"/>
<line x1="370.2" y1="384.9" x2="372.1" y2="384.9" stroke="#222" stroke-width="0.9"/>
<rect x="373" y="380.25" width="57.7" height="9.3" fill="#000" stroke="#333" stroke-width="0.5"/>
<rect x="374.4" y="381.45" width="6.7" height="6.9" fill="#a6dcd2"/>
<rect x="382" y="381.45" width="5.3" height="6.9" fill="#b6da6a"/>
<rect x="388.1" y="381.45" width="3.9" height="6.9" fill="#da3b27"/>
<rect x="392.8" y="381.45" width="3.1" height="6.9" fill="#58306c"/>
<rect x="396.9" y="381.45" width="2.3" height="6.9" fill="#5b8b3b"/>
<rect x="399.8" y="381.45" width="1.2" height="6.9" fill="#5dbe47"/>
<rect x="401.5" y="381.45" width="1.2" height="6.9" fill="#8a2229"/>
<rect x="403.9" y="381.45" width="0.9" height="6.9" fill="#e08b2b"/>
<rect x="405.6" y="381.45" width="1.8" height="6.9" fill="#1c3a6a"/>
<text x="361.3" y="398.26" font-size="7.3" text-anchor="end" fill="#000">Bacteroidaceae</text>
<rect x="363.2" y="392.56" width="6.8" height="6.2" fill="#e8899b"/>
<line x1="370.2" y1="395.66" x2="372.1" y2="395.66" stroke="#222" stroke-width="0.9"/>
<rect x="373" y="391.01" width="55.6" height="9.3" fill="#000" stroke="#333" stroke-width="0.5"/>
<rect x="374.4" y="392.21" width="4.7" height="6.9" fill="#a6dcd2"/>
<rect x="380.3" y="392.21" width="4.9" height="6.9" fill="#b6da6a"/>
<rect x="386" y="392.21" width="2.9" height="6.9" fill="#da3b27"/>
<rect x="389.9" y="392.21" width="2.1" height="6.9" fill="#5dbe47"/>
<rect x="392.8" y="392.21" width="1.7" height="6.9" fill="#58306c"/>
<rect x="395.1" y="392.21" width="2" height="6.9" fill="#5b8b3b"/>
<rect x="397.7" y="392.21" width="1.3" height="6.9" fill="#8a2229"/>
<rect x="399.8" y="392.21" width="1.7" height="6.9" fill="#222222"/>
<g stroke="#111" stroke-width="1.3" fill="none">
<path d="M373.7,403.2 H674.2"/>
<path d="M373.7,403.2 V407.6"/>
<path d="M433.8,403.2 V407.6"/>
<path d="M494,403.2 V407.6"/>
<path d="M554.1,403.2 V407.6"/>
<path d="M614.1,403.2 V407.6"/>
<path d="M674.2,403.2 V407.6"/>
</g>
<text x="373.7" y="419.3" font-size="10" text-anchor="middle" fill="#000">0</text>
<text x="433.8" y="419.3" font-size="10" text-anchor="middle" fill="#000">1000</text>
<text x="494" y="419.3" font-size="10" text-anchor="middle" fill="#000">2000</text>
<text x="554.1" y="419.3" font-size="10" text-anchor="middle" fill="#000">3000</text>
<text x="614.1" y="419.3" font-size="10" text-anchor="middle" fill="#000">4000</text>
<text x="674.2" y="419.3" font-size="10" text-anchor="middle" fill="#000">5000</text>
<text x="524.3" y="436.5" font-size="11.05" text-anchor="middle" fill="#000">Count of associated pairs</text>
<text transform="translate(-0.6,33.8) scale(0.92,1)" font-size="17" font-weight="bold" fill="#000">a)</text>
<text x="-1.5" y="270.8" font-size="17" font-weight="bold" fill="#000">b)</text>
<defs><marker id="ah" viewBox="0 0 10 10" refX="9" refY="5" markerWidth="3.6" markerHeight="3.6" orient="auto-start-reverse" markerUnits="userSpaceOnUse"><path d="M0,0 L10,5 L0,10 z" fill="#000"/></marker></defs>
<circle cx="118.45" cy="317.05" r="25.1" fill="none" stroke="#000" stroke-width="0.85" stroke-dasharray="1.4 0.8"/>
<circle cx="185.6" cy="316.05" r="25.1" fill="none" stroke="#000" stroke-width="0.85" stroke-dasharray="1.4 0.8"/>
<circle cx="121.3" cy="387.1" r="25.1" fill="none" stroke="#000" stroke-width="0.85" stroke-dasharray="1.4 0.8"/>
<circle cx="188.2" cy="385.9" r="25.1" fill="none" stroke="#000" stroke-width="0.85" stroke-dasharray="1.4 0.8"/>
<rect x="104.40" y="303.45" width="13.8" height="5.9" rx="2.95" ry="2.95" fill="#1f4f8a" stroke="#10284a" stroke-width="0.8" transform="rotate(87.5 111.30 306.40)"/>
<rect x="118.60" y="300.95" width="13.8" height="5.9" rx="2.95" ry="2.95" fill="#4f93d8" stroke="#1f4f88" stroke-width="0.8" transform="rotate(12 125.50 303.90)"/>
<rect x="113.40" y="313.15" width="13.8" height="5.9" rx="2.95" ry="2.95" fill="#a9c0e8" stroke="#2f4f8a" stroke-width="0.8" transform="rotate(-50.5 120.30 316.10)"/>
<rect x="99.90" y="319.05" width="13.8" height="5.9" rx="2.95" ry="2.95" fill="#bed7f2" stroke="#2f4f8a" stroke-width="0.8" transform="rotate(45 106.80 322.00)"/>
<rect x="123.80" y="322.45" width="13.8" height="5.9" rx="2.95" ry="2.95" fill="#3b6bc2" stroke="#1a3a78" stroke-width="0.8" transform="rotate(-12.8 130.70 325.40)"/>
<rect x="110.30" y="330.05" width="13.8" height="5.9" rx="2.95" ry="2.95" fill="#4070c4" stroke="#1a3a78" stroke-width="0.8" transform="rotate(84.8 117.20 333.00)"/>
<rect x="167.30" y="301.35" width="13.8" height="5.9" rx="2.95" ry="2.95" fill="#f6b511" stroke="#945c08" stroke-width="0.8" transform="rotate(-62 174.20 304.30)"/>
<rect x="184.10" y="301.35" width="13.8" height="5.9" rx="2.95" ry="2.95" fill="#ed7f30" stroke="#944a18" stroke-width="0.8" transform="rotate(0 191.00 304.30)"/>
<rect x="176.50" y="311.55" width="13.8" height="5.9" rx="2.95" ry="2.95" fill="#f4a97d" stroke="#a5582e" stroke-width="0.8" transform="rotate(37 183.40 314.50)"/>
<rect x="194.10" y="315.25" width="13.8" height="5.9" rx="2.95" ry="2.95" fill="#fdd45f" stroke="#a86e14" stroke-width="0.8" transform="rotate(45 201.00 318.20)"/>
<rect x="168.20" y="322.45" width="13.8" height="5.9" rx="2.95" ry="2.95" fill="#c9612b" stroke="#7a3412" stroke-width="0.8" transform="rotate(0 175.10 325.40)"/>
<rect x="184.40" y="326.85" width="13.8" height="5.9" rx="2.95" ry="2.95" fill="#f9e1d2" stroke="#a5603a" stroke-width="0.8" transform="rotate(82 191.30 329.80)"/>
<rect x="106.80" y="373.25" width="13.8" height="5.9" rx="2.95" ry="2.95" fill="#1f4f8a" stroke="#10284a" stroke-width="0.8" transform="rotate(85 113.70 376.20)"/>
<rect x="121.30" y="370.25" width="13.8" height="5.9" rx="2.95" ry="2.95" fill="#4f93d8" stroke="#1f4f88" stroke-width="0.8" transform="rotate(15.5 128.20 373.20)"/>
<rect x="116.10" y="382.75" width="13.8" height="5.9" rx="2.95" ry="2.95" fill="#a9c0e8" stroke="#2f4f8a" stroke-width="0.8" transform="rotate(-60.6 123.00 385.70)"/>
<rect x="102.40" y="388.65" width="13.8" height="5.9" rx="2.95" ry="2.95" fill="#bed7f2" stroke="#2f4f8a" stroke-width="0.8" transform="rotate(45 109.30 391.60)"/>
<rect x="126.00" y="391.65" width="13.8" height="5.9" rx="2.95" ry="2.95" fill="#3b6bc2" stroke="#1a3a78" stroke-width="0.8" transform="rotate(-13.7 132.90 394.60)"/>
<rect x="113.10" y="399.55" width="13.8" height="5.9" rx="2.95" ry="2.95" fill="#4070c4" stroke="#1a3a78" stroke-width="0.8" transform="rotate(83 120.00 402.50)"/>
<rect x="170.30" y="371.25" width="13.8" height="5.9" rx="2.95" ry="2.95" fill="#f6b511" stroke="#945c08" stroke-width="0.8" transform="rotate(-64.8 177.20 374.20)"/>
<rect x="187.20" y="366.95" width="13.8" height="5.9" rx="2.95" ry="2.95" fill="#ed7f30" stroke="#944a18" stroke-width="0.8" transform="rotate(0 194.10 369.90)"/>
<rect x="179.10" y="381.15" width="13.8" height="5.9" rx="2.95" ry="2.95" fill="#f4a97d" stroke="#a5582e" stroke-width="0.8" transform="rotate(36 186.00 384.10)"/>
<rect x="197.10" y="385.15" width="13.8" height="5.9" rx="2.95" ry="2.95" fill="#fdd45f" stroke="#a86e14" stroke-width="0.8" transform="rotate(45 204.00 388.10)"/>
<rect x="170.50" y="391.65" width="13.8" height="5.9" rx="2.95" ry="2.95" fill="#c9612b" stroke="#7a3412" stroke-width="0.8" transform="rotate(0 177.40 394.60)"/>
<rect x="186.80" y="396.65" width="13.8" height="5.9" rx="2.95" ry="2.95" fill="#f9e1d2" stroke="#a5603a" stroke-width="0.8" transform="rotate(84 193.70 399.60)"/>
<path d="M133.4,304.5 L170.6,303.3" stroke="#000" stroke-width="0.75" fill="none" marker-start="url(#ah)" marker-end="url(#ah)"/>
<path d="M123.6,317.3 L180.6,316.7" stroke="#000" stroke-width="0.75" fill="none" marker-start="url(#ah)" marker-end="url(#ah)"/>
<path d="M121.1,333 L167.8,325.4" stroke="#000" stroke-width="0.75" fill="none" marker-start="url(#ah)" marker-end="url(#ah)"/>
<path d="M112.6,368.2 C110.5,357.5 131,357.5 128.9,368.6" stroke="#000" stroke-width="0.75" fill="none" marker-start="url(#ah)" marker-end="url(#ah)"/>
<path d="M104.9,393.6 C98.5,398 96.5,405.5 102.8,408.4 C107,410.2 112,408.6 115.4,406.4" stroke="#000" stroke-width="0.75" fill="none" marker-start="url(#ah)" marker-end="url(#ah)"/>
<path d="M194.3,379.8 L194.3,374.4" stroke="#000" stroke-width="0.75" fill="none" marker-end="url(#ah)"/>
<path d="M194.3,379.8 C192.5,380 190.5,380.6 189.2,381.6" stroke="#000" stroke-width="0.75" fill="none" marker-end="url(#ah)"/>
<path d="M194.3,379.8 C196.1,380 198.1,380.6 199.4,381.6" stroke="#000" stroke-width="0.75" fill="none" marker-end="url(#ah)"/>
<path d="M177.8,399.6 C179,404.2 185,405.5 190,403.3" stroke="#000" stroke-width="0.75" fill="none" marker-start="url(#ah)" marker-end="url(#ah)"/>
<g font-style="italic" font-size="8.7" fill="#000" text-anchor="middle">
<text x="118.7" y="272.3" textLength="48.4" lengthAdjust="spacingAndGlyphs">Genera from</text>
<text x="118.6" y="284.3" textLength="32.2" lengthAdjust="spacingAndGlyphs">family A</text>
<text x="184" y="272.3" textLength="48.8" lengthAdjust="spacingAndGlyphs">Genera from</text>
<text x="184" y="284.3" textLength="31.7" lengthAdjust="spacingAndGlyphs">family B</text>
</g>
<g font-weight="bold" font-size="9" fill="#000" text-anchor="middle">
<text x="50.4" y="310.7" textLength="48.2" lengthAdjust="spacingAndGlyphs">Cross family</text>
<text x="50.4" y="321.6" textLength="55.2" lengthAdjust="spacingAndGlyphs">co-abundance</text>
<text x="49.45" y="380.8" textLength="53.7" lengthAdjust="spacingAndGlyphs">Within family</text>
<text x="49.35" y="391.6" textLength="55.1" lengthAdjust="spacingAndGlyphs">co-abundance</text>
</g>
</svg>
</body></html>
